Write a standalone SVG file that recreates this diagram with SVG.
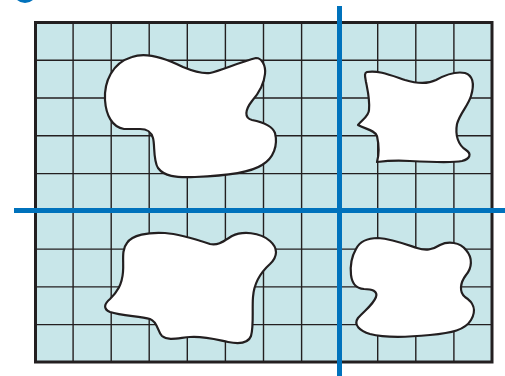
<svg xmlns="http://www.w3.org/2000/svg" width="505" height="376" viewBox="0 0 505 376">
<style>
.grid{stroke:#231f20;stroke-width:1.4;fill:none}
.blob{fill:#fff;stroke:#231f20;stroke-width:2.2;stroke-linejoin:round}
.axis{stroke:#0072bc;stroke-width:5;fill:none}
</style>
<rect width="505" height="376" fill="#fff"/>
<circle cx="25" cy="-9" r="12" fill="#0072bc"/>
<g id="grid">
<rect x="35.5" y="22.5" width="456.5" height="339.5" fill="#c8e6e9"/>
<path class="grid" d="M73.1 22.5V362M111.2 22.5V362M149.2 22.5V362M187.3 22.5V362M225.4 22.5V362M263.5 22.5V362M301.6 22.5V362M339.6 22.5V362M377.7 22.5V362M415.8 22.5V362M453.9 22.5V362M35.5 60.2H492M35.5 98H492M35.5 135.8H492M35.5 173.6H492M35.5 211.3H492M35.5 249.1H492M35.5 286.9H492M35.5 324.6H492"/>
<rect x="35.5" y="22.5" width="456.5" height="339.5" fill="none" stroke="#231f20" stroke-width="3"/>
</g>
<g id="blob-top-left">
<path class="blob" d="M132,57 C145,52 165,58 183,67 C195,72 202,74 210,73 C220,71 240,62 256,58 C262,58 266,66 265,74 C264,85 258,94 252,101 C245,110 244,118 252,120 C262,122 272,125 275,133 C278,145 274,158 262,165 C250,173 222,176 195,177 C175,178 164,176 158,168 C153,160 155,145 153,138 C151,131 147,129 140,129 L124,129 C112,127 106,115 105,100 C104,82 112,63 132,57 Z"/>
</g>
<g id="blob-top-right">
<path class="blob" d="M367,72 C378,70 390,75 405,80 C418,84 428,84 436,80 C445,75 455,71 465,73 C474,76 474,86 471,96 C468,106 460,113 457,124 C455,135 458,145 466,150 C472,154 470,159 462,161 C452,163 430,162 410,161 C395,160 385,161 377,162 C379,155 379,145 377,136 C375,130 365,129 358,125 C362,120 369,116 369,110 C370,100 368,92 366,82 C365,76 364,73 367,72 Z"/>
</g>
<g id="blob-bottom-left">
<path class="blob" d="M127,243 C132,235 148,232 165,233 C180,234 195,239 210,244 C218,246 224,241 232,236 C242,231 260,232 270,241 C278,248 278,256 270,264 C260,273 254,283 253,297 C252,310 254,325 251,336 C248,344 238,344 228,342 C218,340 205,336 190,337 C178,338 168,341 162,336 C157,331 158,322 150,319 C140,316 122,316 110,312 C103,309 104,304 110,299 C117,292 122,285 123,272 C124,262 121,250 127,243 Z"/>
</g>
<g id="blob-bottom-right">
<path class="blob" d="M356,249 C360,241 367,238 378,238 C392,239 405,244 417,248 C426,251 432,250 440,245 C448,241 460,242 466,250 C473,258 472,268 466,275 C460,283 459,292 465,297 C473,302 477,310 471,320 C465,330 452,333 430,335 C410,337 385,338 370,334 C360,331 353,325 358,318 C365,310 373,305 376,297 C378,291 372,289 364,289 C355,288 352,283 351,275 C350,266 352,256 356,249 Z"/>
</g>
<g id="connectors">
<line class="axis" x1="14" y1="210.5" x2="505" y2="210.5"/>
<line class="axis" x1="339.5" y1="6" x2="339.5" y2="376"/>
</g>
</svg>
